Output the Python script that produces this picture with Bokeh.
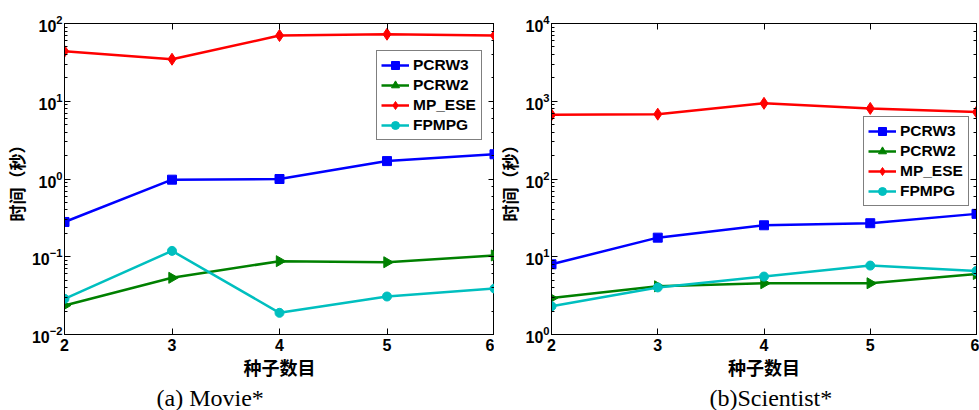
import numpy as np
from bokeh.plotting import figure
from bokeh.models import (LogAxis, LinearAxis, Legend, LegendItem, Title,
                          FixedTicker, Range1d)
from bokeh.layouts import row
from bokeh.embed import file_html
from bokeh.resources import INLINE

seeds = [2, 3, 4, 5, 6]
series_names = ["PCRW3", "PCRW2", "MP_ESE", "FPMPG"]

movie_pcrw3 = [0.28, 0.98, 1.0, 1.7, 2.08]
movie_pcrw2 = [0.0236, 0.0536, 0.0877, 0.085, 0.104]
movie_mpese = [44, 34.7, 70, 72.8, 70]
movie_fpmpg = [0.0288, 0.119, 0.019, 0.0308, 0.039]

sci_pcrw3 = [8.0, 17.6, 25.4, 27.0, 35.6]
sci_pcrw2 = [2.94, 4.17, 4.56, 4.56, 6.0]
sci_mpese = [668, 682, 940, 809, 725]
sci_fpmpg = [2.31, 4.03, 5.56, 7.7, 6.56]

colors = ["#0000ff", "#008000", "#ff0000", "#00bfbf"]
markers = ["square", "triangle", "diamond", "circle"]
msizes = [9, 11, 12, 9]
angles = [0, -np.pi / 2, 0, 0]

TICK_FONT = "Liberation Sans"
CJK = "Noto Sans CJK SC"


def style_axis(ax, labels=True):
    ax.axis_line_color = "black"
    ax.axis_line_width = 1
    ax.major_tick_in = 6
    ax.major_tick_out = 0
    ax.minor_tick_in = 3
    ax.minor_tick_out = 0
    ax.major_tick_line_color = "black"
    ax.minor_tick_line_color = "black"
    ax.major_label_text_font = TICK_FONT
    ax.major_label_text_font_style = "bold"
    ax.major_label_text_color = "black"
    ax.major_label_text_font_size = "16px"
    if not labels:
        ax.major_label_text_alpha = 0
        ax.major_label_text_font_size = "1px"
        ax.major_label_standoff = 0


def make(data, yr, width, bl, br, caption, cap_offset, leg_loc):
    p = figure(width=width, height=410, y_axis_type="log",
               x_range=Range1d(2, 6), y_range=Range1d(*yr),
               output_backend="svg", toolbar_location=None,
               min_border_left=bl, min_border_right=br,
               min_border_top=23, min_border_bottom=0)
    p.grid.visible = False
    p.outline_line_color = "black"
    p.outline_line_width = 1
    p.background_fill_color = "white"
    p.border_fill_color = "white"

    p.xaxis.ticker = FixedTicker(ticks=seeds, minor_ticks=[])
    style_axis(p.xaxis[0])
    style_axis(p.yaxis[0])
    p.yaxis.major_label_text_font_size = "16px"
    p.xaxis.axis_label = "种子数目"
    p.yaxis.axis_label = "时间（秒）"
    for ax in (p.xaxis[0], p.yaxis[0]):
        ax.axis_label_text_font = CJK
        ax.axis_label_text_font_style = "bold"
        ax.axis_label_text_font_size = "17px"
        ax.axis_label_text_color = "black"
    p.xaxis.axis_label_text_font_size = "18px"
    p.xaxis.axis_label_standoff = 0
    p.yaxis.axis_label_standoff = 0
    p.xaxis.major_label_standoff = 4
    p.yaxis.major_label_standoff = 2

    ra = LogAxis()
    style_axis(ra, labels=False)
    p.add_layout(ra, "right")
    ta = LinearAxis(ticker=FixedTicker(ticks=seeds, minor_ticks=[]))
    style_axis(ta, labels=False)
    p.add_layout(ta, "above")

    items = []
    for name, vals, c, m, s, a in zip(series_names, data, colors, markers, msizes, angles):
        lr = p.line(seeds, vals, line_color=c, line_width=2.5)
        sr = p.scatter(seeds, vals, marker=m, size=s, angle=a,
                       fill_color=c, line_color=c)
        items.append(LegendItem(label=name, renderers=[lr, sr]))

    leg = Legend(items=items, location=leg_loc)
    leg.label_text_font = TICK_FONT
    leg.label_text_font_style = "bold"
    leg.label_text_font_size = "15.5px"
    leg.label_text_color = "black"
    leg.border_line_color = "black"
    leg.border_line_width = 1.5
    leg.background_fill_alpha = 1
    leg.glyph_width = 28
    leg.glyph_height = 20
    leg.label_height = 20
    leg.label_width = 64
    leg.spacing = 0
    leg.padding = 4
    leg.margin = 0
    leg.label_standoff = 4
    p.add_layout(leg, "center")

    t = Title(text=caption, align="left", offset=cap_offset,
              text_font="Liberation Serif", text_font_size="24px",
              text_font_style="normal", text_color="black", standoff=0)
    p.add_layout(t, "below")
    return p


p1 = make([movie_pcrw3, movie_pcrw2, movie_mpese, movie_fpmpg], (1e-2, 1e2),
          494, 60, 0, "(a) Movie*", 92, (312, 194))
p2 = make([sci_pcrw3, sci_pcrw2, sci_mpese, sci_fpmpg], (1e0, 1e4),
          485, 56, 3, "(b)Scientist*", 158, (312, 128))

layout = row(p1, p2, spacing=0)
open("out.html", "w").write(file_html(layout, INLINE))
